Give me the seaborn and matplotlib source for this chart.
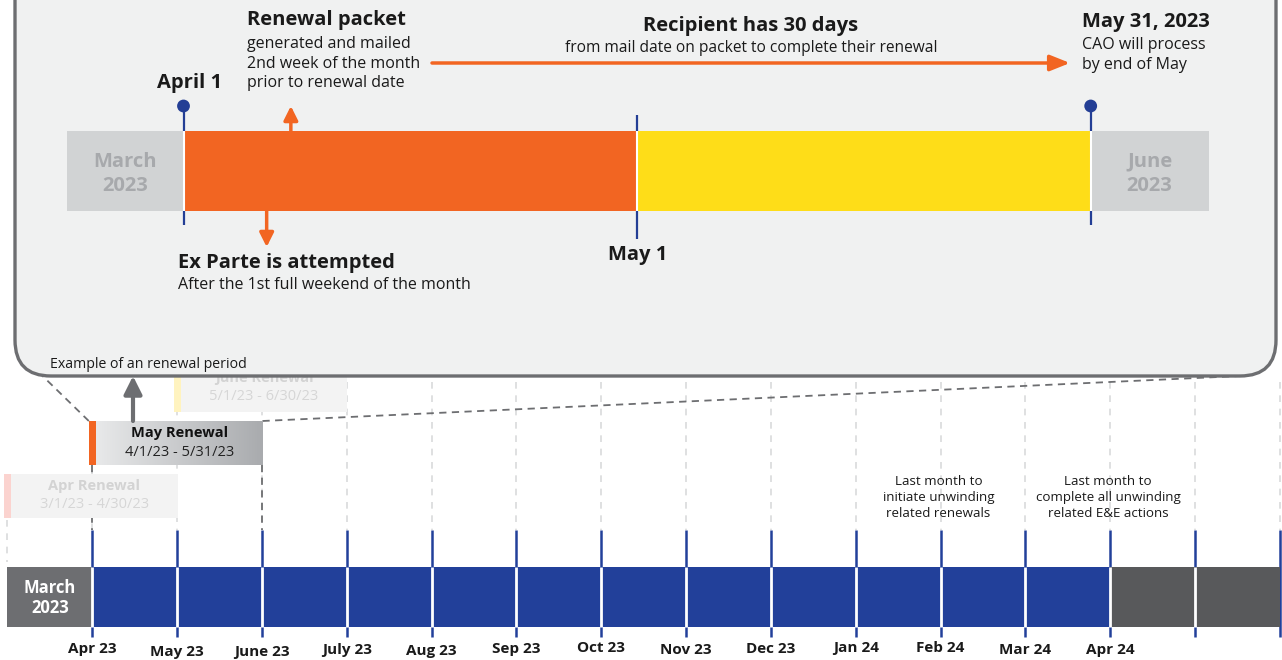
import numpy as np
import pandas as pd
import matplotlib
matplotlib.use("Agg")
import matplotlib.pyplot as plt
import seaborn as sns
from matplotlib.patches import FancyBboxPatch, Rectangle
from matplotlib.colors import LinearSegmentedColormap

# ------------------------------------------------------------------ data
# top (zoomed) period, days counted from April 1, 2023
top_labels = ["March\n2023", "", "", "June\n2023"]
top_start = [-7.7, 0, 30, 60]
top_end = [0, 30, 60, 67.8]
top_colors = ["#d1d3d4", "#f26522", "#fedd18", "#d1d3d4"]
marker_days = [0, 30, 60]
marker_labels = ["April 1", "May 1", "May 31, 2023"]
packet_day = 7.1
exparte_day = 5.5

# bottom timeline, months counted from April 2023
month_labels = ["Apr 23", "May 23", "June 23", "July 23", "Aug 23", "Sep 23", "Oct 23",
                "Nov 23", "Dec 23", "Jan 24", "Feb 24", "Mar 24", "Apr 24"]
bot_labels = ["March\n2023", "", ""]
bot_start = [-1, 0, 12]
bot_end = [0, 12, 14]
bot_colors = ["#6d6e71", "#22409a", "#58595b"]

renewal_names = ["Apr Renewal", "May Renewal", "June Renewal"]
renewal_dates = ["3/1/23 - 4/30/23", "4/1/23 - 5/31/23", "5/1/23 - 6/30/23"]
renewal_start = [-1, 0, 1]
renewal_end = [1, 2, 3]

notes = ["Last month to\ninitiate unwinding\nrelated renewals",
         "Last month to\ncomplete all unwinding\nrelated E&E actions"]
note_month = [10, 12]

# ------------------------------------------------------------------ style
sns.set_theme(style="white")
plt.rcParams['font.family'] = ['Open Sans', 'DejaVu Sans']

NAVY = "#233e95"
BLUE = "#22409a"
ORANGE = "#f26522"
GRAY = "#6d6e71"
TXT = "#1a1a1a"

TOP_X0, TOP_DAY = 183.5, 15.12
def tx(d):
    return TOP_X0 + d * TOP_DAY

BOT_X0, BOT_STEP = 92.3, 84.83
def bx(m):
    return BOT_X0 + m * BOT_STEP

# small vertical offsets of the month labels as laid out in the original
label_y = [649, 652, 652, 650, 651, 649, 648, 650, 649, 648, 648, 650, 650]

fig = plt.figure(figsize=(12.82, 6.6), dpi=100)
ax = fig.add_axes([0, 0, 1, 1])
ax.set_xlim(0, 1282)
ax.set_ylim(660, 0)
ax.axis("off")

# ------------------------------------------------------------------ bottom part
# light dashed guides
for m in range(-1, 15):
    if m == -1:
        y0, y1 = 520, 562
    elif m == 0:
        y0, y1 = 470, 530
    else:
        y0, y1 = 382, 530
    ax.plot([bx(m), bx(m)], [y0, y1], ls=(0, (4, 4)), color="#d9dadb", lw=1.2, zorder=1)
# blue ticks
ax.vlines([bx(m) for m in range(0, 15)], 530, 637, color=BLUE, lw=1.8, zorder=2)
# bars
for lab, s, e, c in zip(bot_labels, bot_start, bot_end, bot_colors):
    ax.barh(597, bx(e) - bx(s), left=bx(s), height=60, color=c, zorder=3, linewidth=0)
    if lab:
        ax.text((bx(s) + bx(e)) / 2, 598, lab, ha="center", va="center", color="white",
                fontsize=12, fontweight="bold", zorder=6, linespacing=1.2)
ax.vlines([bx(m) for m in range(0, 14)], 567, 627, color="white", lw=2, zorder=4)
for i, lab in enumerate(month_labels):
    ax.text(bx(i), label_y[i], lab, ha="center", va="center", fontsize=11, fontweight="bold",
            color=TXT, zorder=6)
for txt, m in zip(notes, note_month):
    ax.text(bx(m) - 2, 497.5, txt, ha="center", va="center", fontsize=9.6, color=TXT,
            linespacing=1.32, zorder=6)

# renewal boxes
box_y = [495.5, 443, 387.5]
strip_cols = ["#fbd3cf", ORANGE, "#fff3bf"]
for i, (n, d, s, e) in enumerate(zip(renewal_names, renewal_dates, renewal_start, renewal_end)):
    x0 = bx(s) - 3.5
    x1 = bx(e) + 0.5
    yc = box_y[i]
    h = 44
    if i == 1:
        grad = LinearSegmentedColormap.from_list("g", ["#e8e9ea", "#a9abae"])
        ax.imshow(np.linspace(0, 1, 256)[None, :], cmap=grad, aspect="auto",
                  extent=[x0 + 7, x1, yc + h / 2, yc - h / 2], zorder=3)
        ax.add_patch(Rectangle((x0, yc - h / 2), 7, h, color=ORANGE, zorder=3.5, lw=0))
        tc1, tc2 = "#111111", "#222222"
    else:
        h = 44 if i == 0 else 49
        ax.add_patch(Rectangle((x0, yc - h / 2), x1 - x0, h, color="#f3f3f3", zorder=2, lw=0))
        ax.add_patch(Rectangle((x0, yc - h / 2), 7, h, color=strip_cols[i], zorder=2.5, lw=0))
        tc1, tc2 = "#d3d3d3", "#d6d6d6"
    cx = (x0 + 7 + x1) / 2
    ax.text(cx, yc - 9.5, n, ha="center", va="center", fontsize=10.5, fontweight="bold",
            color=tc1, zorder=3.8 if i == 1 else 2.8)
    ax.text(cx, yc + 9.5, d, ha="center", va="center", fontsize=10.5, color=tc2,
            zorder=3.8 if i == 1 else 2.8)

# connectors from the May box to the zoom panel
mx0, mx1 = bx(0) - 3.5, bx(2) + 0.5
ax.plot([mx0, 20], [421, 354], ls=(0, (4, 3)), color=GRAY, lw=1.3, zorder=1.5)
ax.plot([mx1, 1240], [421, 376], ls=(0, (4, 3)), color=GRAY, lw=1.3, zorder=1.5)
ax.plot([bx(0), bx(0)], [465, 530], ls=(0, (4, 3)), color=GRAY, lw=1.3, zorder=1.5)
ax.plot([bx(2), bx(2)], [465, 530], ls=(0, (4, 3)), color=GRAY, lw=1.3, zorder=1.5)
ax.annotate("", xy=(133, 376), xytext=(133, 421),
            arrowprops=dict(arrowstyle="-|>,head_length=0.9,head_width=0.45", color=GRAY,
                            lw=3, shrinkA=0, shrinkB=0), zorder=4)

# ------------------------------------------------------------------ zoom panel
panel = FancyBboxPatch((15, -80), 1261, 456, boxstyle="round,pad=0,rounding_size=36",
                       facecolor="#f0f1f1", edgecolor=GRAY, lw=2.4, zorder=5)
ax.add_patch(panel)
ax.text(50, 365, "Example of an renewal period", ha="left", va="center", fontsize=10.2,
        color=TXT, zorder=7)

# marker stems
ax.vlines([tx(0), tx(60)], 106, 225, color=NAVY, lw=1.6, zorder=6)
ax.vlines([tx(30)], 115, 239, color=NAVY, lw=1.6, zorder=6)
# top bars
for lab, s, e, c in zip(top_labels, top_start, top_end, top_colors):
    ax.barh(171, tx(e) - tx(s), left=tx(s), height=80, color=c, zorder=7, linewidth=0)
    if lab:
        ax.text((tx(s) + tx(e)) / 2, 174, lab, ha="center", va="center", color="#a7a9ac",
                fontsize=14.5, fontweight="bold", zorder=9, linespacing=1.3)
ax.vlines([tx(d) for d in marker_days], 131, 211, color="white", lw=1.5, zorder=8)
dots = pd.DataFrame({"x": [tx(0), tx(60)], "y": [106, 106]})
sns.scatterplot(data=dots, x="x", y="y", ax=ax, s=85, color=NAVY, edgecolor="none",
                legend=False, zorder=9)

# marker labels
ax.text(tx(0) + 6, 83, marker_labels[0], ha="center", va="center", fontsize=14.5,
        fontweight="bold", color=TXT, zorder=9)
ax.text(tx(30) + 1, 255, marker_labels[1], ha="center", va="center", fontsize=14.5,
        fontweight="bold", color=TXT, zorder=9)
ax.text(1082, 22, marker_labels[2], ha="left", va="center", fontsize=14.5,
        fontweight="bold", color=TXT, zorder=9)
ax.text(1082, 55, "CAO will process\nby end of May", ha="left", va="center", fontsize=11.5,
        color=TXT, linespacing=1.3, zorder=9)

# renewal packet
ax.text(247, 20, "Renewal packet", ha="left", va="center", fontsize=14.5, fontweight="bold",
        color=TXT, zorder=9)
ax.text(247, 63.5, "generated and mailed\n2nd week of the month\nprior to renewal date",
        ha="left", va="center", fontsize=11.5, color=TXT, linespacing=1.33, zorder=9)
ax.annotate("", xy=(tx(packet_day), 106), xytext=(tx(packet_day), 131),
            arrowprops=dict(arrowstyle="-|>,head_length=0.7,head_width=0.35", color=ORANGE,
                            lw=2.5, shrinkA=0, shrinkB=0), zorder=9)
# ex parte
ax.annotate("", xy=(tx(exparte_day), 247), xytext=(tx(exparte_day), 211),
            arrowprops=dict(arrowstyle="-|>,head_length=0.7,head_width=0.35", color=ORANGE,
                            lw=2.5, shrinkA=0, shrinkB=0), zorder=9)
ax.text(178, 263, "Ex Parte is attempted", ha="left", va="center", fontsize=14.5,
        fontweight="bold", color=TXT, zorder=9)
ax.text(178, 285, "After the 1st full weekend of the month", ha="left", va="center",
        fontsize=11.5, color=TXT, zorder=9)
# 30 days
ax.annotate("", xy=(1070, 63), xytext=(432, 63),
            arrowprops=dict(arrowstyle="-|>,head_length=1.0,head_width=0.4", color=ORANGE,
                            lw=2.5, shrinkA=0, shrinkB=0), zorder=9)
ax.text(751, 26, "Recipient has 30 days", ha="center", va="center", fontsize=14.5,
        fontweight="bold", color=TXT, zorder=9)
ax.text(751, 48, "from mail date on packet to complete their renewal", ha="center",
        va="center", fontsize=11.2, color=TXT, zorder=9)

ax.set_xlim(0, 1282)
ax.set_ylim(660, 0)
ax.set_xlabel("")
ax.set_ylabel("")
fig.savefig("out.png", dpi=100, facecolor="white")
